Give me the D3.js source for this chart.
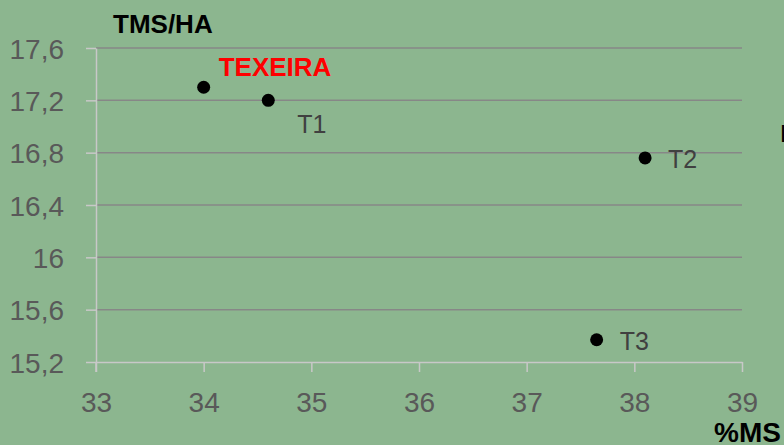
<!DOCTYPE html>
<html>
<head>
<meta charset="utf-8">
<script src="https://cdn.jsdelivr.net/npm/d3@7"></script>
<style>
  body { margin: 0; background: #8cb68f; overflow: hidden; }
  svg { display: block; font-family: "Liberation Sans", Arial, sans-serif; }
</style>
</head>
<body>
<svg id="chart" width="784" height="445"></svg>
<script>
var names = ["TEXEIRA", "T1", "T2", "T3"];
var ms = [34.0, 34.6, 38.1, 37.65];
var tms = [17.3, 17.2, 16.76, 15.37];
var xTicks = [33, 34, 35, 36, 37, 38, 39];
var yTicks = [15.2, 15.6, 16, 16.4, 16.8, 17.2, 17.6];

// label placement relative to the point
var labelOffset = {
  "TEXEIRA": [15, -11],
  "T1": [29, 33],
  "T2": [23, 10],
  "T3": [23, 10]
};

var plot = {left: 96, right: 742, top: 48, bottom: 362};

var x = d3.scaleLinear().domain([33, 39]).range([plot.left, plot.right]);
var y = d3.scaleLinear().domain([15.2, 17.6]).range([plot.bottom, plot.top]);

var fmt = function(d){ return String(+d.toFixed(1)).replace('.', ','); };

var svg = d3.select("#chart");

svg.append("rect")
  .attr("width", 784).attr("height", 445)
  .attr("fill", "#8cb68f");

// gridlines
svg.append("g").selectAll("line")
  .data(yTicks.slice(1))
  .enter().append("line")
  .attr("x1", plot.left).attr("x2", plot.right)
  .attr("y1", function(d){ return y(d); })
  .attr("y2", function(d){ return y(d); })
  .attr("stroke", "#878787")
  .attr("stroke-width", 1.5);

var yAxis = d3.axisLeft(y).tickValues(yTicks).tickSize(10).tickSizeOuter(0).tickPadding(22).tickFormat(fmt);
var xAxis = d3.axisBottom(x).tickValues(xTicks).tickSize(10).tickSizeOuter(0).tickPadding(20).tickFormat(function(d){ return d; });

var gy = svg.append("g")
  .attr("transform", "translate(" + plot.left + ",0)")
  .call(yAxis);

var gx = svg.append("g")
  .attr("transform", "translate(0," + plot.bottom + ")")
  .call(xAxis);

[gx, gy].forEach(function(g){
  g.select(".domain").attr("stroke", "#c8c8c8").attr("stroke-width", 1.5);
  g.selectAll(".tick line").attr("stroke", "#c8c8c8").attr("stroke-width", 1.5);
  g.selectAll(".tick text")
    .attr("fill", "#595959")
    .attr("font-size", 28)
    .attr("font-family", "Liberation Sans, Arial, sans-serif");
});
gy.selectAll(".tick text").attr("dy", "0.36em");
gx.selectAll(".tick text").attr("dy", "0.71em");

// extend y axis line down past x axis
svg.append("line")
  .attr("x1", plot.left).attr("x2", plot.left)
  .attr("y1", plot.bottom).attr("y2", plot.bottom + 10)
  .attr("stroke", "#c8c8c8").attr("stroke-width", 1.5);

// points
svg.append("g").selectAll("circle")
  .data(names)
  .enter().append("circle")
  .attr("cx", function(d, i){ return x(ms[i]); })
  .attr("cy", function(d, i){ return y(tms[i]); })
  .attr("r", 6.5)
  .attr("fill", "#000");

svg.append("g").selectAll("text")
  .data(names)
  .enter().append("text")
  .attr("x", function(d, i){ return x(ms[i]) + labelOffset[d][0]; })
  .attr("y", function(d, i){ return y(tms[i]) + labelOffset[d][1]; })
  .attr("font-size", function(d){ return d == "TEXEIRA" ? 26 : 25; })
  .attr("font-weight", function(d){ return d == "TEXEIRA" ? "bold" : "normal"; })
  .attr("fill", function(d){ return d == "TEXEIRA" ? "#ff0000" : "#404040"; })
  .text(function(d){ return d; });

// axis titles
svg.append("text")
  .attr("x", 113).attr("y", 33)
  .attr("font-size", 26).attr("font-weight", "bold")
  .attr("fill", "#000")
  .text("TMS/HA");

svg.append("text")
  .attr("x", 714).attr("y", 442)
  .attr("font-size", 28).attr("font-weight", "bold")
  .attr("fill", "#000")
  .text("%MS");

// clipped legend text at the right edge
svg.append("text")
  .attr("x", 780).attr("y", 142)
  .attr("font-size", 24)
  .attr("fill", "#000")
  .text("L");
</script>
</body>
</html>
